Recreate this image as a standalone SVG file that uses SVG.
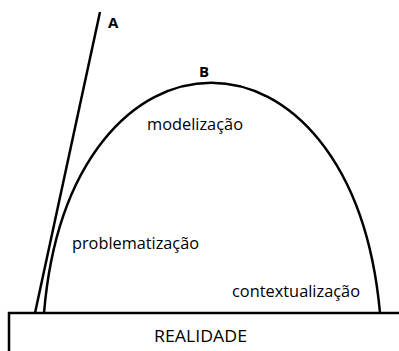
<svg xmlns="http://www.w3.org/2000/svg" width="399" height="351" viewBox="0 0 399 351">
<style>
.ln{fill:none;stroke:#000;stroke-width:2.5}
.t{font-family:"Open Sans","Noto Sans",sans-serif;font-size:15.5px;fill:#000}
.b{font-family:"Open Sans","Noto Sans",sans-serif;font-size:15px;font-weight:bold;fill:#000}
</style>
<rect width="399" height="351" fill="#fff"/>
<g id="realidade">
<path class="ln" d="M9,352 V313 H400"/>
<text class="t" x="200.5" y="342" font-size="16.5" text-anchor="middle" textLength="93" lengthAdjust="spacingAndGlyphs">REALIDADE</text>
</g>
<g id="connectors">
<path id="lineA" class="ln" d="M100,12 L35,313"/>
<path id="arcB" class="ln" d="M44,313 C70,6 352,6 380,313"/>
</g>
<g id="A"><text class="b" x="108" y="27.5">A</text></g>
<g id="B"><text class="b" x="199" y="76.5">B</text></g>
<g id="modelizacao"><text class="t" x="147" y="130" textLength="96" lengthAdjust="spacingAndGlyphs">modelização</text></g>
<g id="problematizacao"><text class="t" x="72" y="249" textLength="127" lengthAdjust="spacingAndGlyphs">problematização</text></g>
<g id="contextualizacao"><text class="t" x="232" y="297" textLength="128" lengthAdjust="spacingAndGlyphs">contextualização</text></g>
</svg>
